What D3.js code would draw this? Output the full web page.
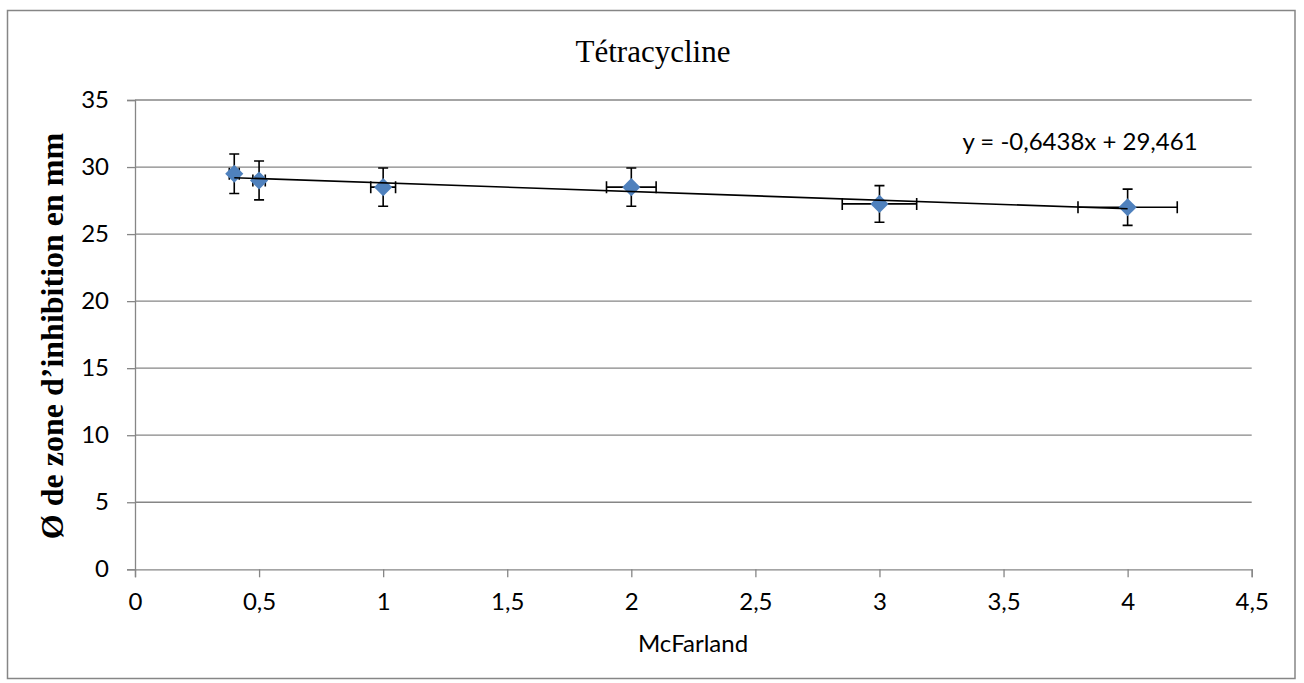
<!doctype html>
<html lang="fr">
<head>
<meta charset="utf-8" />
  <title>Tétracycline</title>
  <script src="https://d3js.org/d3.v7.min.js"></script>
  <style type="text/css">
    html, body { margin: 0; padding: 0; background: #fff; }
    #graphe { width: 1304px; height: 683px; }
  </style>
</head>
<body>
  <div id="graphe"></div>
  <script>
// données
var mcfarland = [0.4, 0.5, 1, 2, 3, 4];
var diametre = [29.5, 29, 28.5, 28.5, 27.25, 27];
var erreurX = [0.02, 0.025, 0.05, 0.1, 0.15, 0.2];
var erreurY = [1.475, 1.45, 1.425, 1.425, 1.3625, 1.35];
var ticksX = [0, 0.5, 1, 1.5, 2, 2.5, 3, 3.5, 4, 4.5];
var ticksY = [0, 5, 10, 15, 20, 25, 30, 35];
var pente = -0.6438, origine = 29.461;
var equation = "y = -0,6438x + 29,461";

var largeur = 1304, hauteur = 683;
var gris = "#868686", bleu = "#4f81bd";
var policeTexte = "Lato, 'Open Sans', sans-serif";
var policeTitre = "'Liberation Serif', 'Times New Roman', serif";

var svg = d3.select("#graphe").append("svg")
  .attr("width", largeur).attr("height", hauteur);

// cadre du graphique
svg.append("rect").attr("x", 7.5).attr("y", 10.5).attr("width", 1287.5).attr("height", 668)
  .attr("fill", "#fff").attr("stroke", gris).attr("stroke-width", 1.5);

var x = d3.scaleLinear().domain([0, 4.5]).range([135, 1251.7]);
var y = d3.scaleLinear().domain([0, 35]).range([569.3, 100]);

// quadrillage horizontal
svg.append("g").selectAll("line").data(ticksY.slice(1)).enter().append("line")
  .attr("x1", x(0)).attr("x2", x(4.5))
  .attr("y1", function(d){ return y(d); }).attr("y2", function(d){ return y(d); })
  .attr("stroke", gris).attr("stroke-width", 1.3);

// axe Y
var axeY = svg.append("g").attr("transform", "translate(" + x(0) + ",0)")
  .call(d3.axisLeft(y).tickValues(ticksY).tickSize(8).tickPadding(18)
    .tickFormat(function(d){ return String(d).replace(".", ","); }));
axeY.select(".domain").attr("stroke", gris).attr("stroke-width", 1.3);
axeY.selectAll(".tick line").attr("stroke", gris).attr("stroke-width", 1.3);
axeY.selectAll("text").attr("font-family", policeTexte).attr("font-size", 24).attr("fill", "#000");

// axe X
var axeX = svg.append("g").attr("transform", "translate(0," + y(0) + ")")
  .call(d3.axisBottom(x).tickValues(ticksX).tickSize(8).tickPadding(16)
    .tickFormat(function(d){ return String(d).replace(".", ","); }));
axeX.select(".domain").attr("stroke", gris).attr("stroke-width", 1.3);
axeX.selectAll(".tick line").attr("stroke", gris).attr("stroke-width", 1.3);
axeX.selectAll("text").attr("font-family", policeTexte).attr("font-size", 24).attr("fill", "#000");

// barres d'erreur (derrière les marqueurs)
var points = mcfarland.map(function(v, i){
  return {x: v, y: diametre[i], ex: erreurX[i], ey: erreurY[i]};
});
var barres = svg.append("g").attr("stroke", "#000").attr("stroke-width", 1.6).attr("fill", "none");
points.forEach(function(p){
  var cx = x(p.x), cy = y(p.y);
  var haut = y(p.y + p.ey), bas = y(p.y - p.ey);
  var gauche = x(p.x - p.ex), droite = x(p.x + p.ex);
  barres.append("path").attr("d",
    "M" + cx + "," + haut + "V" + bas +
    "M" + (cx - 5) + "," + haut + "H" + (cx + 5) +
    "M" + (cx - 5) + "," + bas + "H" + (cx + 5));
  barres.append("path").attr("d",
    "M" + gauche + "," + cy + "H" + droite +
    "M" + gauche + "," + (cy - 6) + "V" + (cy + 6) +
    "M" + droite + "," + (cy - 6) + "V" + (cy + 6));
});

// marqueurs en losange
svg.append("g").selectAll("path").data(points).enter().append("path")
  .attr("d", d3.symbol().type(d3.symbolDiamond2).size(210))
  .attr("transform", function(d){ return "translate(" + x(d.x) + "," + y(d.y) + ")"; })
  .attr("fill", bleu);

// courbe de tendance linéaire
var xMin = d3.min(mcfarland), xMax = d3.max(mcfarland);
svg.append("line")
  .attr("x1", x(xMin)).attr("y1", y(pente * xMin + origine))
  .attr("x2", x(xMax)).attr("y2", y(pente * xMax + origine))
  .attr("stroke", "#000").attr("stroke-width", 1.6);

svg.append("text").attr("x", 1080).attr("y", 150).attr("text-anchor", "middle")
  .attr("font-family", policeTexte).attr("font-size", 24).text(equation);

// titres
svg.append("text").attr("x", 653).attr("y", 62).attr("text-anchor", "middle")
  .attr("font-family", policeTitre).attr("font-size", 31).text("Tétracycline");

svg.append("text").attr("x", 693).attr("y", 652).attr("text-anchor", "middle")
  .attr("font-family", policeTexte).attr("font-size", 24).text("McFarland");

svg.append("text").attr("transform", "translate(63,336) rotate(-90)")
  .attr("text-anchor", "middle").attr("font-family", policeTitre)
  .attr("font-weight", "bold").attr("font-size", 32)
  .text("Ø de zone d’inhibition en mm");
  </script>
</body>
</html>
